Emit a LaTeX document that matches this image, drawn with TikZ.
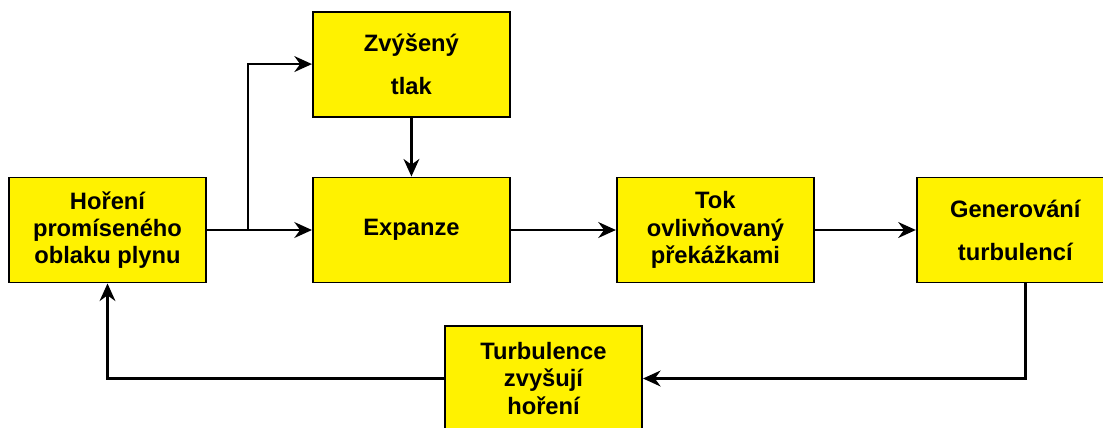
\documentclass[tikz,border=0pt]{standalone}
\usepackage{fontspec}
\setmainfont{Liberation Sans}
\usetikzlibrary{positioning,arrows.meta}

\begin{document}
\begin{tikzpicture}[->, >={Stealth[length=10pt,width=9pt]}, line width=1.4pt, node distance=2.1cm,
  main node/.style={draw, line width=1.1pt, fill=yellow, minimum width=3.94cm, minimum height=2.1cm,
    inner sep=0pt, align=center, font=\bfseries\fontsize{13.5}{15.5}\selectfont}]
\useasboundingbox (0,0) rectangle (22.06,-8.54);
\node[main node]                      (h) at (2.15,-4.6) {Hoření\\promíseného\\oblaku plynu};
\node[main node, right=of h]          (e) {Expanze};
\node[main node, above=1.18cm of e]   (z) {Zvýšený\\[9pt]tlak};
\node[main node, right=2.1cm of e]    (t) {Tok\\ovlivňovaný\\překážkami};
\node[main node, right=2.02cm of t]   (g) {Generování\\[9pt]turbulencí};
\node[main node]                      (u) at (10.87,-7.57) {Turbulence\\zvyšují\\hoření};
\coordinate (s) at (4.96,-4.6);
\path
(h) edge (e)
(z) edge (e)
(e) edge (t)
(t) edge (g)
;
\draw (s) |- (z.west);
\draw ([xshift=0.2cm]g.south) |- (u.east);
\draw (u.west) -| (h.south);
\end{tikzpicture}
\end{document}
